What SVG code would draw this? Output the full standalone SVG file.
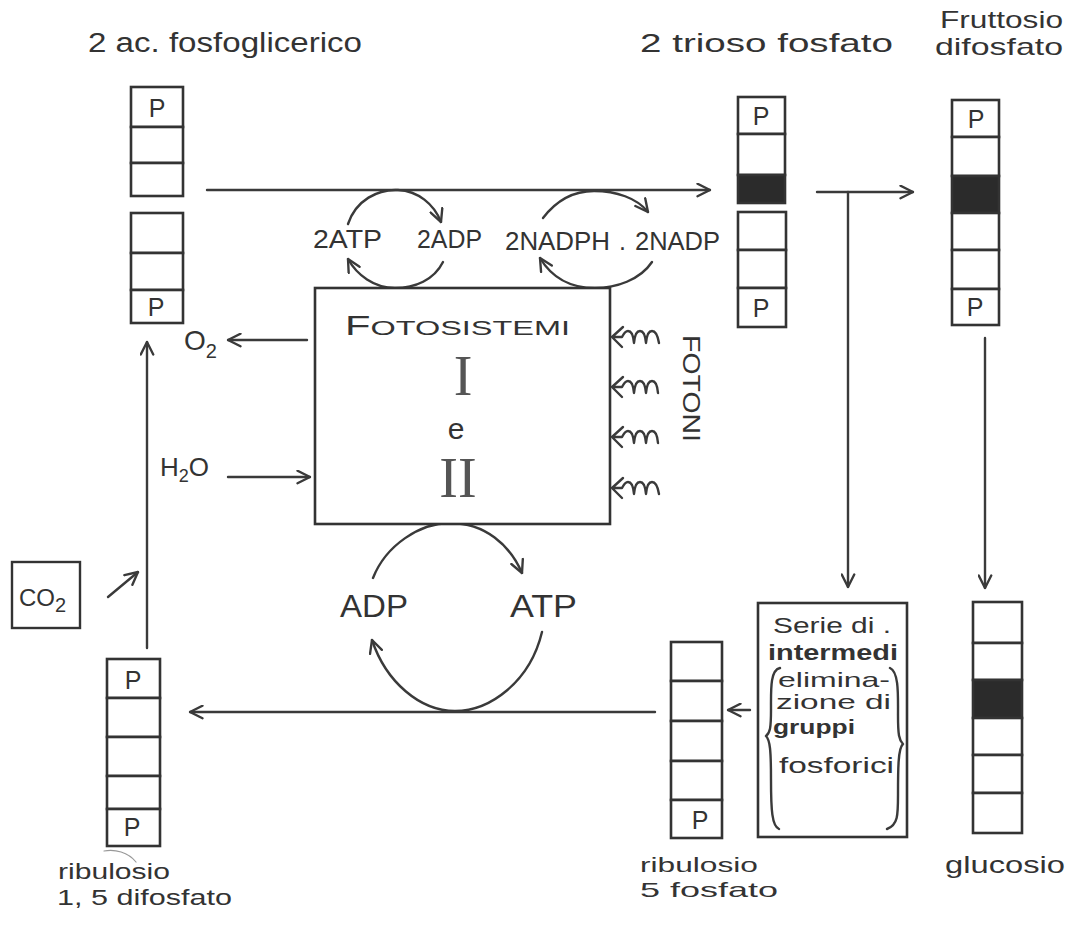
<svg xmlns="http://www.w3.org/2000/svg" width="1081" height="936" viewBox="0 0 1081 936">
<defs>
<style>
.bg{fill:#ffffff}
.cell{fill:#ffffff;stroke:#333;stroke-width:2.6}
.dark{fill:#2b2b2b;stroke:#333;stroke-width:2.6}
.ln{fill:none;stroke:#3a3a3a;stroke-width:2.4;stroke-linecap:round;stroke-linejoin:round}
.thin{fill:none;stroke:#999;stroke-width:1.2;stroke-linecap:round}
.t{font-family:"Liberation Sans","DejaVu Sans",sans-serif;fill:#333}
.p{font-family:"Liberation Sans","DejaVu Sans",sans-serif;fill:#333;font-size:25px;text-anchor:middle}
.s{font-family:"Liberation Serif","DejaVu Serif",serif;fill:#555;text-anchor:middle}
</style>
<marker id="ah" viewBox="0 0 12 12" refX="11" refY="6" markerWidth="15" markerHeight="15" orient="auto" markerUnits="userSpaceOnUse">
<path d="M1,1 L11,6 L1,11" fill="none" stroke="#3a3a3a" stroke-width="1.9" stroke-linecap="round" stroke-linejoin="round"/>
</marker>
</defs>
<rect class="bg" x="0" y="0" width="1081" height="936"/>

<g id="connectors">
<path class="ln" d="M207,190 L710,190" marker-end="url(#ah)"/>
<path class="ln" d="M348,224 C356,200 378,189 398,190 C418,191 434,204 441,222" marker-end="url(#ah)"/>
<path class="ln" d="M443,262 C434,280 415,288 395,288 C374,288 357,275 348,259" marker-end="url(#ah)"/>
<path class="ln" d="M543,218 C556,201 574,191 594,191 C616,191 637,198 648,212" marker-end="url(#ah)"/>
<path class="ln" d="M652,262 C640,280 616,288 595,288 C571,288 552,278 540,258" marker-end="url(#ah)"/>
<path class="ln" d="M817,192 L913,192" marker-end="url(#ah)"/>
<path class="ln" d="M848,192 L848,587" marker-end="url(#ah)"/>
<path class="ln" d="M985,338 L985,588" marker-end="url(#ah)"/>
<path class="ln" d="M750,710 L728,710" marker-end="url(#ah)"/>
<path class="ln" d="M655,712 L190,712" marker-end="url(#ah)"/>
<path class="ln" d="M373,578 C386,545 420,523 450,523 C485,523 510,545 522,573" marker-end="url(#ah)"/>
<path class="ln" d="M542,632 C530,682 490,711 455,711 C420,711 386,682 372,640" marker-end="url(#ah)"/>
<path class="ln" d="M147,648 L147,342" marker-end="url(#ah)"/>
<path class="ln" d="M108,597 L138,572" marker-end="url(#ah)"/>
<path class="ln" d="M307,340 L228,340" marker-end="url(#ah)"/>
<path class="ln" d="M228,477 L310,477" marker-end="url(#ah)"/>
<g id="photons">
<path class="ln" d="M623,327 L612,337 L622,347 M613,337 L622,337 Q625,331 628,331 Q633,331 634,343 Q635,331 640,331 Q645,331 646,343 Q647,331 652,331 Q657,331 659,343"/>
<path class="ln" d="M623,377 L612,387 L622,397 M613,387 L622,387 Q625,381 628,381 Q633,381 634,393 Q635,381 640,381 Q645,381 646,393 Q647,381 652,381 Q657,381 658,393"/>
<path class="ln" d="M623,427 L612,437 L622,447 M613,437 L622,437 Q625,431 628,431 Q633,431 634,443 Q635,431 640,431 Q645,431 646,443 Q647,431 652,431 Q657,431 658,443"/>
<path class="ln" d="M623,478 L612,488 L622,498 M613,488 L622,488 Q625,482 628,482 Q633,482 634,494 Q635,482 640,482 Q645,482 646,494 Q647,482 652,482 Q657,482 659,494"/>
</g>
</g>

<g id="fosfoglicerico">
<text class="t" x="88" y="52" font-size="27" textLength="274" lengthAdjust="spacingAndGlyphs">2 ac. fosfoglicerico</text>
<rect class="cell" x="131" y="87" width="52" height="40"/>
<rect class="cell" x="131" y="127" width="52" height="36"/>
<rect class="cell" x="131" y="163" width="52" height="33"/>
<text class="p" x="157" y="117">P</text>
<rect class="cell" x="131" y="213" width="52" height="40"/>
<rect class="cell" x="131" y="253" width="52" height="37"/>
<rect class="cell" x="131" y="290" width="52" height="33"/>
<text class="p" x="156" y="316">P</text>
</g>

<g id="trioso">
<text class="t" x="640" y="52" font-size="25" textLength="253" lengthAdjust="spacingAndGlyphs">2 trioso fosfato</text>
<rect class="cell" x="738" y="97" width="47" height="37"/>
<rect class="cell" x="738" y="134" width="47" height="41"/>
<rect class="dark" x="738" y="175" width="47" height="28"/>
<text class="p" x="761" y="125">P</text>
<rect class="cell" x="738" y="212" width="48" height="38"/>
<rect class="cell" x="738" y="250" width="48" height="38"/>
<rect class="cell" x="738" y="288" width="48" height="39"/>
<text class="p" x="761" y="317">P</text>
</g>

<g id="fruttosio">
<text class="t" x="940" y="28" font-size="24" textLength="123" lengthAdjust="spacingAndGlyphs">Fruttosio</text>
<text class="t" x="935" y="55" font-size="24" textLength="128" lengthAdjust="spacingAndGlyphs">difosfato</text>
<rect class="cell" x="952" y="100" width="47" height="37"/>
<rect class="cell" x="952" y="137" width="47" height="39"/>
<rect class="dark" x="952" y="176" width="47" height="37"/>
<rect class="cell" x="952" y="213" width="47" height="37"/>
<rect class="cell" x="952" y="250" width="47" height="39"/>
<rect class="cell" x="952" y="289" width="47" height="36"/>
<text class="p" x="976" y="128">P</text>
<text class="p" x="975" y="316">P</text>
</g>

<g id="atp-adp-top">
<text class="t" x="313" y="248" font-size="25" textLength="69" lengthAdjust="spacingAndGlyphs">2ATP</text>
<text class="t" x="417" y="248" font-size="25" textLength="65" lengthAdjust="spacingAndGlyphs">2ADP</text>
</g>
<g id="nadph">
<text class="t" x="505" y="250" font-size="25" textLength="105" lengthAdjust="spacingAndGlyphs">2NADPH</text>
<text class="t" x="619" y="250" font-size="25">.</text>
<text class="t" x="635" y="250" font-size="25" textLength="85" lengthAdjust="spacingAndGlyphs">2NADP</text>
</g>

<g id="fotosistemi">
<rect x="315" y="288" width="295" height="236" fill="#fff" stroke="#333" stroke-width="2.6"/>
<text class="t" x="345" y="335" font-size="27" textLength="225" lengthAdjust="spacingAndGlyphs">F<tspan font-size="21">OTOSISTEMI</tspan></text>
<text class="s" x="463" y="395" font-size="56">I</text>
<text class="t" x="456" y="439" font-size="30" text-anchor="middle" fill="#444">e</text>
<text class="s" x="458" y="497" font-size="56">II</text>
</g>

<g id="fotoni">
<text class="t" font-size="24" transform="translate(683,335) rotate(90)" textLength="107" lengthAdjust="spacingAndGlyphs" fill="#444">FOTONI</text>
</g>

<g id="o2">
<text class="t" x="184" y="350" font-size="28">O<tspan font-size="20" dy="8">2</tspan></text>
</g>
<g id="h2o">
<text class="t" x="160" y="476" font-size="26">H<tspan font-size="18" dy="6">2</tspan><tspan dy="-6">O</tspan></text>
</g>

<g id="co2">
<rect x="12" y="562" width="68" height="66" fill="#fff" stroke="#333" stroke-width="2.4"/>
<text class="t" x="19" y="606" font-size="24">CO<tspan font-size="20" dy="6">2</tspan></text>
</g>

<g id="adp-atp-bottom">
<text class="t" x="340" y="617" font-size="32" textLength="68" lengthAdjust="spacingAndGlyphs" fill="#444">ADP</text>
<text class="t" x="510" y="617" font-size="32" textLength="67" lengthAdjust="spacingAndGlyphs" fill="#444">ATP</text>
</g>

<g id="ribulosio-15">
<rect class="cell" x="107" y="659" width="53" height="39"/>
<rect class="cell" x="107" y="698" width="53" height="39"/>
<rect class="cell" x="107" y="737" width="53" height="39"/>
<rect class="cell" x="107" y="776" width="53" height="33"/>
<rect class="cell" x="107" y="809" width="53" height="37"/>
<text class="p" x="133" y="689">P</text>
<text class="p" x="132" y="836" font-size="20">P</text>
<path class="thin" d="M104,851 C115,849 128,852 136,862"/>
<text class="t" x="58" y="879" font-size="22" textLength="112" lengthAdjust="spacingAndGlyphs">ribulosio</text>
<text class="t" x="57" y="905" font-size="22" textLength="175" lengthAdjust="spacingAndGlyphs">1, 5 difosfato</text>
</g>

<g id="ribulosio-5">
<rect class="cell" x="671" y="642" width="51" height="39"/>
<rect class="cell" x="671" y="681" width="51" height="40"/>
<rect class="cell" x="671" y="721" width="51" height="40"/>
<rect class="cell" x="671" y="761" width="51" height="39"/>
<rect class="cell" x="671" y="800" width="51" height="38"/>
<text class="p" x="700" y="829">P</text>
<text class="t" x="640" y="872" font-size="21" textLength="118" lengthAdjust="spacingAndGlyphs">ribulosio</text>
<text class="t" x="640" y="897" font-size="21" textLength="138" lengthAdjust="spacingAndGlyphs">5 fosfato</text>
</g>

<g id="serie">
<rect x="758" y="603" width="149" height="234" fill="#fff" stroke="#333" stroke-width="2.6"/>
<text class="t" x="773" y="633" font-size="22" textLength="118" lengthAdjust="spacingAndGlyphs">Serie di .</text>
<text class="t" x="768" y="660" font-size="22" font-weight="bold" textLength="130" lengthAdjust="spacingAndGlyphs">intermedi</text>
<text class="t" x="778" y="687" font-size="21" textLength="112" lengthAdjust="spacingAndGlyphs">elimina-</text>
<text class="t" x="776" y="709" font-size="21" textLength="115" lengthAdjust="spacingAndGlyphs">zione di</text>
<text class="t" x="773" y="734" font-size="21" font-weight="bold" textLength="82" lengthAdjust="spacingAndGlyphs">gruppi</text>
<text class="t" x="779" y="773" font-size="22" textLength="115" lengthAdjust="spacingAndGlyphs">fosforici</text>
<path class="ln" d="M780,668 C770,670 771,690 771,710 C771,728 770,733 766,736 C770,740 771,750 771,780 C771,810 772,826 779,829"/>
<path class="ln" d="M890,668 C899,672 898,695 898,715 C898,735 899,740 903,744 C898,748 898,770 898,795 C898,815 898,825 887,829"/>
</g>

<g id="glucosio">
<rect class="cell" x="973" y="602" width="49" height="41"/>
<rect class="cell" x="973" y="643" width="49" height="37"/>
<rect class="dark" x="973" y="680" width="49" height="38"/>
<rect class="cell" x="973" y="718" width="49" height="37"/>
<rect class="cell" x="973" y="755" width="49" height="38"/>
<rect class="cell" x="973" y="793" width="49" height="40"/>
<text class="t" x="945" y="873" font-size="24" textLength="120" lengthAdjust="spacingAndGlyphs">glucosio</text>
</g>
</svg>
